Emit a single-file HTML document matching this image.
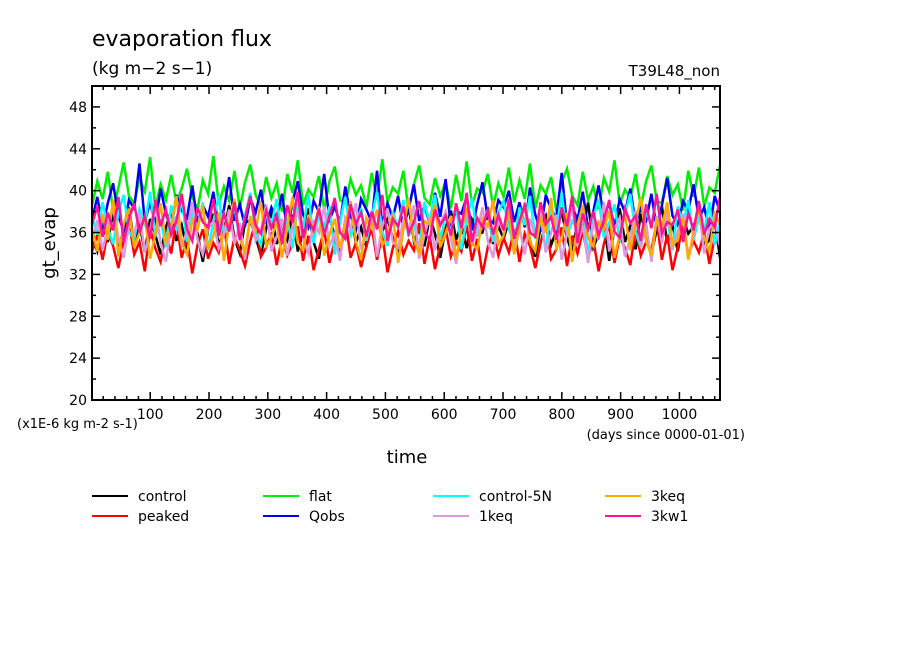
<!DOCTYPE html>
<html><head><meta charset="utf-8"><style>
body{margin:0;background:#fff;}
svg{display:block;font-family:"DejaVu Sans","Liberation Sans",sans-serif;}
</style></head><body>
<svg id="chart" width="904" height="654" viewBox="0 0 904 654">
<rect width="904" height="654" fill="#fff"/>
<text x="92" y="46" font-size="22">evaporation flux</text>
<text x="92" y="74" font-size="17">(kg m−2 s−1)</text>
<text x="720" y="76" font-size="15" text-anchor="end">T39L48_non</text>
<text transform="translate(55,243) rotate(-90)" font-size="18" text-anchor="middle">gt_evap</text>
<text x="407" y="463" font-size="18" text-anchor="middle">time</text>
<text x="17" y="428" font-size="13">(x1E-6 kg m-2 s-1)</text>
<text x="745" y="439" font-size="13" text-anchor="end">(days since 0000-01-01)</text>
<g id="series"></g>
<g id="axes"></g>
<g id="legend"></g>
</svg>
<script>
const seriesNames=["control","peaked","flat","Qobs","control-5N","1keq","3keq","3kw1"];
const seriesColors=["#000000","#ff0000","#00ee00","#0000ee","#00ffff","#dd99dd","#ffaa00","#ff1493"];
const yTicks=[20,24,28,32,36,40,44,48];
const xTicks=[100,200,300,400,500,600,700,800,900,1000];
const control=[35.5,34.2,36.8,35.1,37.9,34.6,36.2,38.4,35.0,36.9,34.1,37.3,35.8,33.9,36.5,38.1,35.2,36.7,34.4,37.6,35.9,33.2,36.3,37.8,34.8,36.1,38.6,35.4,34.0,36.9,37.2,35.6,33.8,36.4,38.0,34.9,36.6,35.3,37.7,34.2,36.0,38.3,35.1,33.5,36.8,37.4,35.7,34.3,36.2,38.2,35.0,36.5,34.6,37.9,33.4,36.1,37.3,35.5,34.1,36.7,38.5,35.2,36.3,34.7,37.5,35.9,33.6,36.4,38.1,35.3,36.8,34.5,37.2,35.8,36.0,38.4,34.9,36.6,35.4,37.1,34.3,36.9,38.7,35.2,33.7,36.5,37.6,34.8,36.2,38.0,35.5,34.0,37.3,36.1,38.9,34.6,35.8,37.0,33.3,36.4,38.3,35.1,36.7,34.4,37.8,35.6,33.9,36.3,38.5,35.0,36.8,34.2,37.4,35.9,36.6,38.1,34.7,35.3,37.2,33.6];
const peaked=[34.2,35.8,33.4,36.1,34.7,32.6,35.3,37.0,33.9,35.1,32.3,36.4,34.5,33.2,35.9,34.0,37.2,33.6,35.4,32.1,34.8,36.3,33.5,35.0,34.1,36.8,33.0,35.6,34.3,32.8,35.2,37.1,33.7,34.6,36.0,32.9,35.5,33.8,34.9,36.6,33.3,35.7,32.4,34.4,36.2,33.1,35.3,34.0,37.3,33.6,35.0,32.7,34.7,36.5,33.4,35.8,32.2,34.5,36.1,33.9,35.2,34.3,36.9,33.0,35.6,32.5,34.8,36.4,33.7,35.1,34.2,36.7,33.3,35.4,32.0,34.6,36.0,33.8,35.5,34.1,36.3,33.2,35.9,34.7,32.6,35.0,37.0,33.5,34.4,36.5,32.8,35.7,34.0,36.1,33.6,35.3,32.3,34.9,36.8,33.1,35.6,34.5,32.9,36.2,33.8,35.1,34.3,37.1,33.4,35.8,32.4,34.6,36.6,33.9,35.2,34.1,36.0,33.0,35.5,34.8];
const flat=[38.6,40.9,39.2,41.8,38.1,40.3,42.7,39.5,38.8,41.2,39.9,43.2,38.4,40.6,39.1,41.5,38.9,40.2,42.1,39.4,38.2,41.0,39.7,43.3,38.7,40.4,39.0,41.9,38.3,40.8,42.5,39.6,38.5,41.3,39.3,40.7,38.0,41.6,39.8,42.9,38.6,40.1,39.4,41.4,38.2,40.9,42.3,39.1,38.8,41.1,39.6,40.5,38.4,41.7,39.2,43.0,38.9,40.3,39.7,41.9,38.1,40.6,42.4,39.3,38.7,41.2,39.5,40.8,38.3,41.5,39.0,42.8,38.6,40.2,39.8,41.6,38.5,40.7,39.4,42.2,38.9,41.0,39.2,42.6,38.3,40.5,39.7,41.3,38.0,40.8,42.1,39.5,38.6,41.8,39.1,40.4,38.2,41.2,39.9,42.9,38.7,40.1,39.3,41.6,38.4,40.9,42.4,39.0,38.8,41.4,39.6,40.6,38.1,41.9,39.4,42.2,38.5,40.3,39.8,42.4];
const Qobs=[37.2,39.4,36.5,38.8,40.7,37.6,36.1,39.1,38.3,42.6,37.0,38.9,36.7,40.2,37.8,36.3,39.6,38.1,37.4,40.5,36.9,38.6,37.5,39.9,36.4,38.2,41.3,37.1,38.7,36.6,39.3,37.9,40.1,36.8,38.4,37.3,39.7,36.2,38.9,40.9,37.7,36.5,39.0,38.0,41.6,37.2,38.5,36.9,40.4,37.6,36.3,39.2,38.2,37.0,41.9,36.7,38.8,37.4,39.5,36.4,38.3,40.6,37.1,38.6,36.8,39.8,37.5,41.1,36.6,38.1,37.8,39.4,36.2,38.7,40.8,37.3,36.9,39.1,38.4,40.0,37.0,38.9,36.5,40.3,37.7,36.1,39.6,38.2,37.4,41.7,36.8,38.5,37.2,39.9,36.3,38.0,40.5,37.5,38.8,36.6,39.2,37.9,40.2,36.9,38.3,37.1,39.7,36.4,38.6,41.2,37.6,36.7,39.0,38.1,40.6,37.3,38.4,36.2,39.5,38.0];
const control5N=[37.5,35.8,38.9,36.4,34.9,37.9,39.6,36.1,35.3,38.2,36.8,39.9,35.6,37.3,34.6,38.6,36.2,39.3,35.1,37.7,36.5,38.8,34.3,37.1,39.5,35.9,36.9,38.4,35.4,37.6,39.8,36.0,34.8,38.1,36.7,39.2,35.5,37.4,34.5,38.7,36.3,39.7,35.0,37.8,36.6,38.5,33.9,37.0,39.4,35.7,36.8,38.3,35.2,37.5,39.9,36.1,34.7,38.0,36.4,39.1,35.6,37.2,34.2,38.9,36.9,39.6,35.3,37.7,36.0,38.6,34.4,37.3,39.3,35.8,36.5,38.2,35.1,37.9,39.0,36.3,35.0,38.4,36.7,39.5,35.4,37.6,34.1,38.8,36.2,39.8,35.7,37.1,36.4,38.3,33.8,37.4,39.2,35.5,36.9,38.7,35.2,37.8,39.7,36.0,34.6,38.1,36.6,39.4,35.9,37.3,34.3,38.5,36.8,39.1,35.3,37.5,36.1,38.9,34.8,37.0];
const keq1=[35.1,37.2,34.3,36.6,38.4,35.5,33.6,36.9,35.9,37.8,34.1,36.3,38.6,35.0,33.2,36.7,37.5,34.8,36.1,38.9,35.3,33.9,36.4,37.1,34.5,35.8,38.2,34.9,36.9,33.4,37.6,35.2,36.2,38.7,34.2,35.6,37.3,33.8,36.5,38.1,35.4,34.0,37.0,36.0,38.5,34.7,35.9,33.3,37.4,36.3,38.8,34.4,35.7,37.7,33.7,36.6,38.3,35.1,34.6,37.2,36.1,38.6,33.5,35.8,37.5,34.3,36.8,38.0,35.5,33.0,36.4,37.9,34.9,36.0,38.4,35.2,33.6,37.1,36.2,38.7,34.5,36.5,33.9,37.3,35.6,38.2,34.1,36.0,37.7,33.4,35.9,38.5,34.8,36.7,33.1,37.0,35.3,38.9,34.2,36.3,37.4,33.7,35.5,38.1,34.6,36.9,33.2,37.6,35.0,38.3,34.4,36.1,37.8,33.5,35.7,38.6,34.0,36.4,37.2,34.7];
const keq3=[36.4,34.2,37.8,35.3,39.1,33.7,36.8,38.3,34.6,36.0,37.5,33.5,35.9,38.8,34.9,36.6,39.5,35.1,33.9,37.2,36.3,38.6,34.4,35.7,37.9,33.3,36.9,39.2,35.4,34.1,37.6,36.2,38.9,34.7,35.5,37.0,33.6,36.5,39.4,35.0,34.3,37.7,36.1,38.5,33.8,35.8,37.3,34.5,36.7,39.0,35.2,33.4,37.4,36.4,38.2,34.8,35.6,37.8,33.1,36.3,39.3,35.3,34.0,37.1,36.8,38.7,34.6,35.9,37.6,33.5,36.2,38.4,35.0,34.4,37.3,36.6,39.1,34.9,35.7,38.0,33.9,36.5,38.8,35.1,34.2,37.5,36.0,39.3,34.5,35.4,37.9,33.2,36.7,38.6,35.5,34.7,37.0,36.3,38.1,33.6,35.8,37.7,34.3,36.9,39.4,35.2,33.8,37.2,36.4,38.9,34.8,35.3,37.4,33.4,36.1,38.3,35.6,34.1,37.8,36.8];
const kw1=[36.8,38.5,35.6,37.9,36.2,39.4,35.1,37.3,38.8,36.0,37.6,35.4,39.1,36.6,38.2,35.8,37.1,39.7,36.3,35.2,38.4,37.0,36.5,39.2,35.7,37.8,36.1,38.9,35.3,37.4,39.5,36.7,35.9,38.1,36.4,37.7,35.0,38.6,36.9,39.9,35.5,37.2,36.2,38.3,35.8,37.5,39.3,36.0,35.4,38.7,36.8,37.9,35.6,38.0,36.3,39.6,35.2,37.3,36.6,38.5,35.9,37.0,39.0,36.1,35.3,38.2,36.7,37.6,35.7,38.8,36.4,39.8,35.1,37.4,36.5,38.1,35.8,37.7,36.2,39.2,35.4,37.1,38.6,36.0,35.6,38.9,36.8,37.5,35.3,38.4,36.6,39.5,35.0,37.8,36.3,38.0,35.7,37.2,39.1,36.1,35.5,38.3,36.9,37.6,35.2,38.7,36.4,39.7,35.9,37.0,36.7,38.2,35.1,37.9,36.2,39.0,35.8,37.3,36.5,39.4];
const seriesData=[control,peaked,flat,Qobs,control5N,keq1,keq3,kw1];
const X0=92,X1=720,Y0=86,Y1=400,DMIN=1,DMAX=1069,VMIN=20,VMAX=50;
const xs=d=>X0+(d-DMIN)/(DMAX-DMIN)*(X1-X0);
const ys=v=>Y1-(v-VMIN)/(VMAX-VMIN)*(Y1-Y0);
const NS="http://www.w3.org/2000/svg";
function mk(t,a){const e=document.createElementNS(NS,t);for(const k in a)e.setAttribute(k,a[k]);return e;}
const sg=document.getElementById('series');
seriesData.forEach((arr,i)=>{
  const n=arr.length;
  const pts=arr.map((v,j)=>xs(DMIN+j*(DMAX-DMIN)/(n-1)).toFixed(1)+","+ys(v).toFixed(1)).join(" ");
  const pl=mk('polyline',{points:pts,fill:'none',stroke:seriesColors[i],'stroke-width':2.5,'stroke-linejoin':'miter'});
  
  
  sg.appendChild(pl);
});
const ag=document.getElementById('axes');
const frame=mk('rect',{x:X0,y:Y0,width:X1-X0,height:Y1-Y0,fill:'none',stroke:'#000','stroke-width':2});


ag.appendChild(frame);
for(let v=20;v<=50;v+=2){
  const major=yTicks.includes(v);const L=major?8:4;const y=ys(v);
  ag.appendChild(mk('line',{x1:X0,x2:X0+L,y1:y,y2:y,stroke:'#000','stroke-width':1.5}));
  ag.appendChild(mk('line',{x1:X1,x2:X1-L,y1:y,y2:y,stroke:'#000','stroke-width':1.5}));
}
yTicks.forEach(v=>{
  const t=mk('text',{x:X0-5,y:ys(v)+5,'font-size':14,'text-anchor':'end'});
  t.textContent=v;
  
  
  ag.appendChild(t);
});
for(let d=20;d<DMAX;d+=20){
  const major=d%100===0;const L=major?8:4;const x=xs(d);
  ag.appendChild(mk('line',{x1:x,x2:x,y1:Y1,y2:Y1-L,stroke:'#000','stroke-width':1.5}));
  ag.appendChild(mk('line',{x1:x,x2:x,y1:Y0,y2:Y0+L,stroke:'#000','stroke-width':1.5}));
}
xTicks.forEach(d=>{
  const t=mk('text',{x:xs(d),y:419,'font-size':14,'text-anchor':'middle'});
  t.textContent=d;
  
  
  ag.appendChild(t);
});
const lg=document.getElementById('legend');
const colX=[92,263,433,605];
seriesNames.forEach((nm,i)=>{
  const col=Math.floor(i/2),row=i%2;
  const x=colX[col],y=496+row*20;
  const g=mk('g',{});
  
  
  g.appendChild(mk('line',{x1:x,x2:x+36,y1:y,y2:y,stroke:seriesColors[i],'stroke-width':2}));
  const t=mk('text',{x:x+46,y:y+5,'font-size':14});
  t.textContent=nm;
  g.appendChild(t);
  lg.appendChild(g);
});
</script>
</body></html>
